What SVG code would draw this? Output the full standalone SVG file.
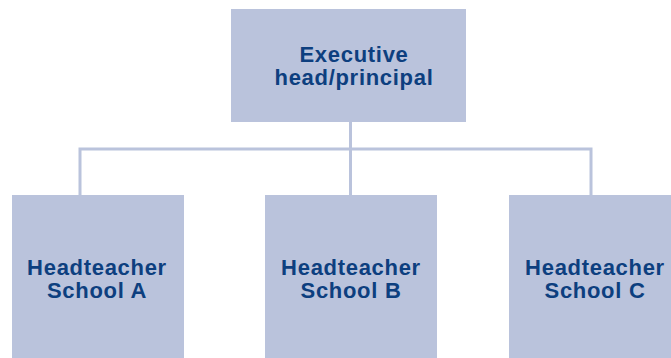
<svg xmlns="http://www.w3.org/2000/svg" width="671" height="358" viewBox="0 0 671 358">
<style>
.box{fill:#bac3dc}
.lbl{font-family:"Liberation Sans",Arial,sans-serif;font-weight:bold;font-size:22px;fill:#0d3f7f;text-anchor:middle;letter-spacing:0.7px}
.con{stroke:#bac3dc;stroke-width:3;fill:none}
</style>
<rect width="671" height="358" fill="#ffffff"/>
<g id="connectors">
<path class="con" d="M350.5 122 V195 M80 195 V149 H591 V195"/>
</g>
<g id="exec">
<rect class="box" x="231" y="9" width="235" height="113"/>
<text class="lbl" x="354" y="62">Executive</text>
<text class="lbl" x="354" y="85">head/principal</text>
</g>
<g id="schoolA">
<rect class="box" x="12" y="195" width="172" height="163"/>
<text class="lbl" x="97" y="275">Headteacher</text>
<text class="lbl" x="97" y="298">School A</text>
</g>
<g id="schoolB">
<rect class="box" x="265" y="195" width="172" height="163"/>
<text class="lbl" x="351" y="275">Headteacher</text>
<text class="lbl" x="351" y="298">School B</text>
</g>
<g id="schoolC">
<rect class="box" x="509" y="195" width="172" height="163"/>
<text class="lbl" x="595" y="275">Headteacher</text>
<text class="lbl" x="595" y="298">School C</text>
</g>
</svg>
